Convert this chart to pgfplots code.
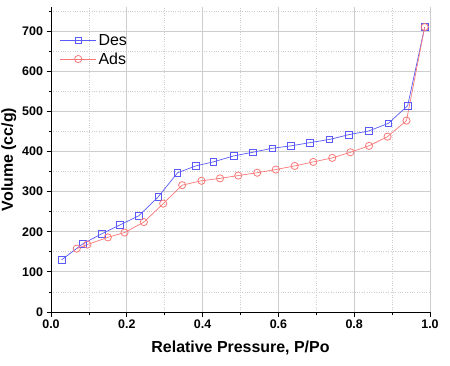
\documentclass[border=0pt]{standalone}
\usepackage{pgfplots}
\pgfplotsset{compat=1.18}
\usepackage{fontspec}
\setmainfont{Liberation Sans}
\definecolor{desblue}{RGB}{90,90,250}
\definecolor{adsred}{RGB}{250,120,120}
\definecolor{gridgray}{RGB}{205,205,205}
\begin{document}
\begin{tikzpicture}[x=1bp,y=1bp]
\path[use as bounding box] (-51,-53) rectangle (399,312);
\begin{axis}[
  at={(0,0)}, anchor=south west,
  scale only axis, width=379bp, height=305bp,
  xmin=0, xmax=1.0, ymin=0, ymax=760,
  axis lines=left, axis line style={-, line width=0.9bp},
  xtick={0,0.2,...,1.0}, minor xtick={0.1,0.3,0.5,0.7,0.9},
  ytick={0,100,...,700}, minor ytick={50,150,...,750},
  tick align=outside, tick pos=left,
  major tick length=4.5bp, minor tick length=2.5bp,
  every tick/.style={black, line width=0.8bp},
  grid=both,
  major grid style={gridgray, line width=0.8bp},
  minor grid style={gridgray, dotted, line width=0.7bp},
  /pgf/number format/assume math mode=true,
  xticklabel style={/pgf/number format/.cd, fixed, fixed zerofill, precision=1},
  tick label style={font=\bfseries\fontsize{12.5}{14}\selectfont},
  xlabel={Relative Pressure, P/Po},
  ylabel={Volume (cc/g)},
  label style={font=\bfseries\fontsize{16}{18}\selectfont},
  xlabel style={yshift=-5bp},
  ylabel style={yshift=-1bp},
  legend style={at={(0.015,0.925)}, anchor=north west, draw=none, fill=none,
    font=\fontsize{16}{19}\selectfont, row sep=2bp,
    cells={anchor=west}},
  legend image code/.code={\draw[mark repeat=2,mark phase=2] plot coordinates {(0bp,0bp) (18bp,0bp) (36bp,0bp)};},
]
\addplot[desblue, line width=0.7bp, mark=square, mark size=3.3bp, mark options={solid, line width=0.8bp}] coordinates {
(0.028,130) (0.084,170) (0.134,195) (0.182,217) (0.232,240) (0.283,287)
(0.334,347) (0.382,364) (0.428,374) (0.482,389) (0.532,398) (0.584,408)
(0.633,414) (0.683,422) (0.735,430) (0.786,442) (0.838,451) (0.890,470)
(0.941,514) (0.986,710)
};
\addlegendentry{Des}
\addplot[adsred, line width=0.7bp, mark=o, mark size=3.6bp, mark options={solid, line width=0.8bp}] coordinates {
(0.068,158) (0.096,168) (0.150,186) (0.194,198) (0.245,224) (0.296,270)
(0.346,316) (0.397,327) (0.446,333) (0.494,340) (0.544,347) (0.593,355)
(0.643,364) (0.692,374) (0.742,384) (0.790,398) (0.839,414) (0.888,437)
(0.938,477) (0.986,710)
};
\addlegendentry{Ads}
\end{axis}
\end{tikzpicture}
\end{document}
